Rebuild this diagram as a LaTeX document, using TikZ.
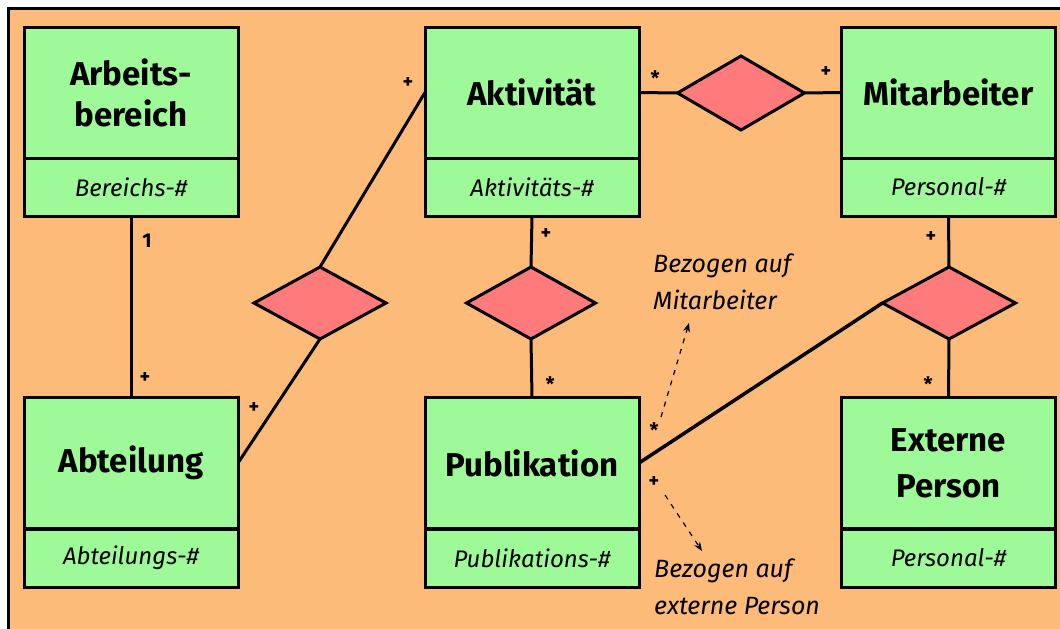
\documentclass[tikz,border=0pt]{standalone}
\usepackage{fontspec}
\setmainfont{Fira Sans}
\usetikzlibrary{shapes.geometric,arrows.meta}
\definecolor{sheet}{RGB}{253,187,122}
\definecolor{entity}{RGB}{158,250,152}
\definecolor{relation}{RGB}{255,122,122}
\tikzset{
  x=1pt, y=-1pt,
  ent/.style={draw, line width=3pt, fill=entity, minimum width=214pt, minimum height=131pt,
              inner sep=0pt, outer sep=0pt, align=center,
              font=\fontsize{33}{41}\selectfont\bfseries},
  attr/.style={draw, line width=3pt, fill=entity, minimum width=214pt, minimum height=58pt,
               inner sep=0pt, outer sep=0pt, font=\fontsize{24}{26}\selectfont\itshape},
  rel/.style={diamond, draw, line width=3pt, fill=relation, inner sep=0pt, outer sep=0pt,
              minimum width=130pt, minimum height=72pt, aspect=1.8},
  link/.style={line width=3pt},
  card/.style={font=\fontsize{20}{20}\selectfont\bfseries, inner sep=0pt},
  note/.style={font=\fontsize{25}{37}\selectfont\itshape, align=left, inner sep=0pt, anchor=west},
  hint/.style={line width=1.2pt, dash pattern=on 5pt off 6pt, -{Stealth[length=9pt,width=7pt]}}
}
\begin{document}
\begin{tikzpicture}
\useasboundingbox (0,0) rectangle (1060,629);
\fill[white] (0,0) rectangle (1060,629);
\fill[sheet] (8,8) rectangle (1060,629);
\draw[line width=3pt] (8,629) -- (8,8) -- (1060,8);

% entities: name part and key part
\node[ent] (arb) at (131,92.5) {Arbeits-\\bereich};
\node[attr] (arbk) at (131,187) {Bereichs-\#};
\node[ent] (akt) at (532,92.5) {Aktivität};
\node[attr] (aktk) at (532,187) {Aktivitäts-\#};
\node[ent] (mit) at (948.5,92.5) {Mitarbeiter};
\node[attr] (mitk) at (948.5,187) {Personal-\#};
\node[ent] (abt) at (131,463) {Abteilung};
\node[attr] (abtk) at (131,558) {Abteilungs-\#};
\node[ent] (pub) at (532,463) {Publikation};
\node[attr] (pubk) at (532,558) {Publikations-\#};
\node[ent, font=\fontsize{33}{46}\selectfont\bfseries] (ext) at (948.5,463) {Externe\\Person};
\node[attr] (extk) at (948.5,558) {Personal-\#};

% relationships
\node[rel, minimum width=132pt] (r1) at (320,303) {};
\node[rel, minimum width=127pt, minimum height=74pt] (r2) at (741,93) {};
\node[rel, minimum width=129pt] (r3) at (531,303) {};
\node[rel, minimum width=133pt] (r4) at (949,303) {};

% connectors
\draw[link] (arbk.south) -- (abt.north);
\draw[link] (abt.east) -- (r1.south);
\draw[link] (r1.north) -- (akt.west);
\draw[link] (akt.east) -- (r2.west);
\draw[link] (r2.east) -- (mit.west);
\draw[link] (aktk.south) -- (r3.north);
\draw[link] (r3.south) -- (pub.north);
\draw[link] (mitk.south) -- (r4.north);
\draw[link] (r4.south) -- (ext.north);
\draw[link, line width=3.5pt] (pub.east) -- (r4.west);

% cardinalities
\node[card] (c1) at (147,241) {1};
\node[card] (c2) at (145,378) {+};
\node[card] (c3) at (254,408) {+};
\node[card] (c4) at (408,83) {+};
\node[card] (c5) at (655,78) {*};
\node[card] (c6) at (826,72) {+};
\node[card] (c7) at (546,234) {+};
\node[card] (c8) at (550,384) {*};
\node[card] (c9) at (931,237) {+};
\node[card] (c10) at (928,384) {*};
\node[card] (c11) at (654,430) {*};
\node[card] (c12) at (654,482) {+};

% annotations
\node[note] (n1) at (653,282) {Bezogen auf\\Mitarbeiter};
\node[note] (n2) at (654,587) {Bezogen auf\\externe Person};
\coordinate (h1s) at (661,417);
\coordinate (h1e) at (689,323);
\coordinate (h2s) at (665,495);
\coordinate (h2e) at (702,551);
\draw[hint] (h1s) -- (h1e);
\draw[hint] (h2s) -- (h2e);
\end{tikzpicture}
\end{document}
